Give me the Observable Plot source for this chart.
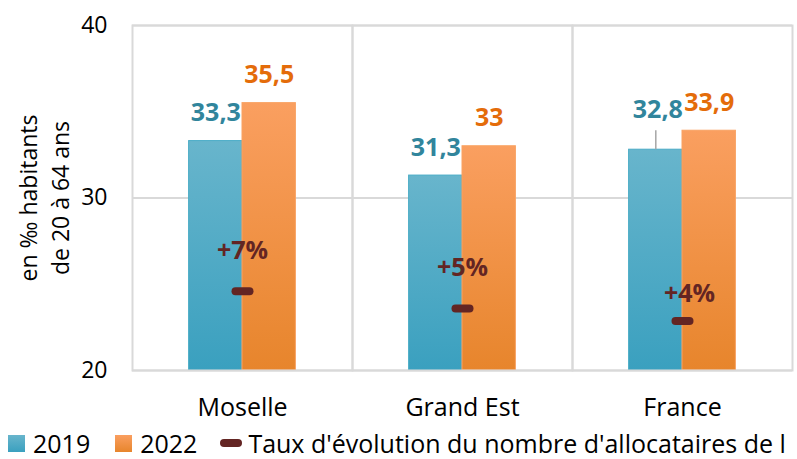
<!DOCTYPE html>
<html>
<head>
<meta charset="utf-8">
<script src="https://cdn.jsdelivr.net/npm/d3@7"></script>
<script src="https://cdn.jsdelivr.net/npm/@observablehq/plot@0.6"></script>
<style>
  html, body { margin: 0; padding: 0; background: #fff; }
  #wrap { position: relative; width: 797px; height: 459px; overflow: hidden; font-family: "Open Sans", sans-serif; }
  #legend { position: absolute; left: 8px; top: 429px; height: 28px; display: flex; align-items: center; white-space: nowrap; font-size: 25px; line-height: 28px; color: #000; }
  .sw { display: inline-block; width: 17px; height: 17px; flex: none; }
  .dash { display: inline-block; width: 22px; height: 8px; border-radius: 4px; background: #632523; flex: none; }
</style>
</head>
<body>
<div id="wrap">
  <div id="chart"></div>
  <div id="legend">
    <span class="sw" style="background:linear-gradient(#68b5cc,#3aa0bf)"></span><span style="margin-left:8px">2019</span>
    <span class="sw" style="margin-left:25px;background:linear-gradient(#fa9f60,#e7852c)"></span><span style="margin-left:8px">2022</span>
    <span class="dash" style="margin-left:23px"></span><span style="margin-left:6px">Taux d'évolution du nombre d'allocataires de l</span>
  </div>
</div>
<script>
// ---- data ----
const categories = ["Moselle", "Grand Est", "France"];
const years = ["2019", "2022"];
const values2019 = [33.3, 31.3, 32.8];
const values2022 = [35.5, 33.0, 33.9];
const evolution = [0.069, 0.054, 0.043];      // taux d'évolution (axe secondaire masqué)
const yTicks = [20, 30, 40];
const yDomain = [20, 40];
const evoAxis = [0, 0.30];                     // domaine de l'axe secondaire masqué
const yLabel = "en ‰ habitants\nde 20 à 64 ans";

// ---- derived tables ----
const rows = categories.flatMap((cat, i) => [
  {cat, year: years[0], value: values2019[i]},
  {cat, year: years[1], value: values2022[i]}
]);
const evoRows = categories.map((cat, i) => ({cat, v: evolution[i]}));
const evoToY = v => yDomain[0] + (v - evoAxis[0]) / (evoAxis[1] - evoAxis[0]) * (yDomain[1] - yDomain[0]);
const fmtNum = v => String(v).replace(".", ",");
const fmtPct = d3.format("+.0%");
const isLeader = d => d.cat === "France" && d.year === "2019";
const is2019 = d => d.year === "2019";

const C19 = "#31859c", C22 = "#e46c0a", CEVO = "#632523";

const dashSymbol = { draw(ctx) { ctx.moveTo(-7, 0); ctx.lineTo(7, 0); } };

const chart = Plot.plot({
  width: 797,
  height: 430,
  marginLeft: 131,
  marginRight: 4,
  marginTop: 25,
  marginBottom: 60,
  style: {fontFamily: "'Open Sans', sans-serif", background: "white", color: "#000"},
  fx: {domain: categories, padding: 0, label: null},
  x: {domain: years, paddingInner: 0, paddingOuter: 1.06, round: false, axis: null},
  y: {domain: yDomain},
  marks: [
    Plot.gridY(yTicks, {stroke: "#d9d9d9", strokeOpacity: 1, strokeWidth: 2}),
    Plot.barY(rows.filter(is2019), {fx: "cat", x: "year", y1: yDomain[0], y2: "value",
      fill: "url(#g2019)", stroke: "#4aacc6", strokeWidth: 1}),
    Plot.barY(rows.filter(d => !is2019(d)), {fx: "cat", x: "year", y1: yDomain[0], y2: "value",
      fill: "url(#g2022)", stroke: "#f9a262", strokeWidth: 1}),
    Plot.frame({stroke: "#d9d9d9", strokeWidth: 2}),
    // leader line for the moved label
    Plot.ruleX(rows.filter(isLeader), {fx: "cat", x: "year", y1: "value", y2: "value",
      insetBottom: 19, stroke: "#a6a6a6", strokeWidth: 1.5}),
    // value labels
    Plot.text(rows.filter(d => !isLeader(d)), {fx: "cat", x: "year", y: "value", text: d => fmtNum(d.value),
      dy: -28, fill: d => is2019(d) ? C19 : C22, fontWeight: "bold", fontSize: 25}),
    Plot.text(rows.filter(isLeader), {fx: "cat", x: "year", y: "value", text: d => fmtNum(d.value),
      dy: -40, dx: 2, fill: C19, fontWeight: "bold", fontSize: 25}),
    // evolution markers
    Plot.dot(evoRows, {fx: "cat", y: d => evoToY(d.v), symbol: dashSymbol, r: 5,
      fill: "none", stroke: CEVO, strokeWidth: 8, strokeLinecap: "round"}),
    Plot.text(evoRows.filter(d => d.cat !== "France"), {fx: "cat", y: d => evoToY(d.v), text: d => fmtPct(d.v),
      dy: -40, fill: CEVO, fontWeight: "bold", fontSize: 25}),
    Plot.text(evoRows.filter(d => d.cat === "France"), {fx: "cat", y: d => evoToY(d.v), text: d => fmtPct(d.v),
      dy: -27, dx: 7, fill: CEVO, fontWeight: "bold", fontSize: 25}),
    // axes
    Plot.axisY({ticks: yTicks, tickSize: 0, tickPadding: 25, fontSize: 23, label: null}),
    Plot.axisFx({anchor: "bottom", tickSize: 0, tickPadding: 28, fontSize: 25, label: null}),
    // y-axis title, drawn in the left-most facet, centred on the y range
    Plot.text([{cat: categories[0], label: yLabel}], {fx: "cat", text: "label", y: () => d3.mean(yDomain),
      frameAnchor: "left", textAnchor: "middle", lineAnchor: "middle", dx: -90, rotate: -90,
      lineHeight: 1.4, fontSize: 23, fill: "#000"})
  ]
});

// gradient definitions for the bars
const NS = "http://www.w3.org/2000/svg";
const defs = document.createElementNS(NS, "defs");
[["g2019", "#68b5cc", "#3aa0bf"], ["g2022", "#fa9f60", "#e7852c"]].forEach(([id, c0, c1]) => {
  const g = document.createElementNS(NS, "linearGradient");
  g.setAttribute("id", id);
  g.setAttribute("x1", "0"); g.setAttribute("y1", "0"); g.setAttribute("x2", "0"); g.setAttribute("y2", "1");
  [[0, c0], [1, c1]].forEach(([o, c]) => {
    const s = document.createElementNS(NS, "stop");
    s.setAttribute("offset", o); s.setAttribute("stop-color", c);
    g.appendChild(s);
  });
  defs.appendChild(g);
});
chart.insertBefore(defs, chart.firstChild);
document.getElementById("chart").appendChild(chart);
</script>
</body>
</html>
